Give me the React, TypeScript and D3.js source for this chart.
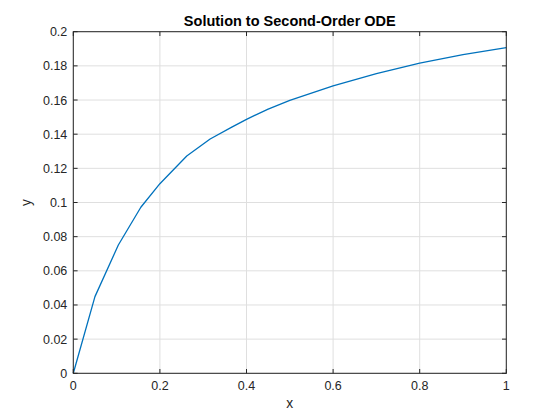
import * as d3 from "d3";

// solution samples
const xs = [0, 0.05, 0.104, 0.156, 0.2, 0.262, 0.316, 0.366, 0.4, 0.45, 0.5, 0.6, 0.7, 0.8, 0.9, 1.0];
const ys = [0, 0.0449, 0.0751, 0.0972, 0.111, 0.1272, 0.1372, 0.1441, 0.1487, 0.1547, 0.1598, 0.1683, 0.1754, 0.1816, 0.1866, 0.1907];

const xTicks = [0, 0.2, 0.4, 0.6, 0.8, 1];
const yTicks = [0, 0.02, 0.04, 0.06, 0.08, 0.1, 0.12, 0.14, 0.16, 0.18, 0.2];

const W = 560;
const H = 420;
const margin = { top: 31.7, right: 53.7, bottom: 46.7, left: 73.3 };
const font = "'Liberation Sans', Arial, Helvetica, sans-serif";
const axisColor = "#262626";
const gridColor = "#dfdfdf";
const tickLen = 4.3;

export default function App() {
  const x = d3.scaleLinear().domain([0, 1]).range([margin.left, W - margin.right]);
  const y = d3.scaleLinear().domain([0, 0.2]).range([H - margin.bottom, margin.top]);

  const line = d3
    .line<number>()
    .x((_, i) => x(xs[i]))
    .y((d) => y(d));

  const [x0, x1] = x.range();
  const [y0, y1] = y.range();

  return (
    <svg
      width={W}
      height={H}
      style={{ position: "absolute", left: 0, top: 0, background: "#fff" }}
      fontFamily={font}
    >
      <rect x={0} y={0} width={W} height={H} fill="#fff" />
      {/* grid */}
      <g stroke={gridColor} strokeWidth={1}>
        {xTicks.map((t) => (
          <line key={"gx" + t} x1={x(t)} x2={x(t)} y1={y0} y2={y1} />
        ))}
        {yTicks.map((t) => (
          <line key={"gy" + t} x1={x0} x2={x1} y1={y(t)} y2={y(t)} />
        ))}
      </g>

      <path d={line(ys) ?? ""} fill="none" stroke="#0072BD" strokeWidth={1.3} strokeLinejoin="round" />

      {/* box + ticks */}
      <rect x={x0} y={y1} width={x1 - x0} height={y0 - y1} fill="none" stroke={axisColor} strokeWidth={1} />
      <g stroke={axisColor} strokeWidth={1}>
        {xTicks.map((t) => (
          <g key={"tx" + t}>
            <line x1={x(t)} x2={x(t)} y1={y0} y2={y0 - tickLen} />
            <line x1={x(t)} x2={x(t)} y1={y1} y2={y1 + tickLen} />
          </g>
        ))}
        {yTicks.map((t) => (
          <g key={"ty" + t}>
            <line x1={x0} x2={x0 + tickLen} y1={y(t)} y2={y(t)} />
            <line x1={x1} x2={x1 - tickLen} y1={y(t)} y2={y(t)} />
          </g>
        ))}
      </g>

      <g fill={axisColor} fontSize={12.5}>
        {xTicks.map((t) => (
          <text key={"lx" + t} x={x(t)} y={y0 + 16.5} textAnchor="middle">
            {d3.format("~g")(t)}
          </text>
        ))}
        {yTicks.map((t) => (
          <text key={"ly" + t} x={x0 - 6} y={y(t) + 4.5} textAnchor="end">
            {d3.format("~g")(t)}
          </text>
        ))}
      </g>

      <text x={(x0 + x1) / 2} y={y0 + 35} textAnchor="middle" fontSize={13.75} fill={axisColor}>
        x
      </text>
      <text
        transform={`translate(${x0 - 42},${(y0 + y1) / 2}) rotate(-90)`}
        textAnchor="middle"
        fontSize={13.75}
        fill={axisColor}
      >
        y
      </text>
      <text
        x={(x0 + x1) / 2}
        y={26.2}
        textAnchor="middle"
        fontSize={14.5}
        fontWeight="bold"
        fill="#000"
      >
        Solution to Second-Order ODE
      </text>
    </svg>
  );
}
